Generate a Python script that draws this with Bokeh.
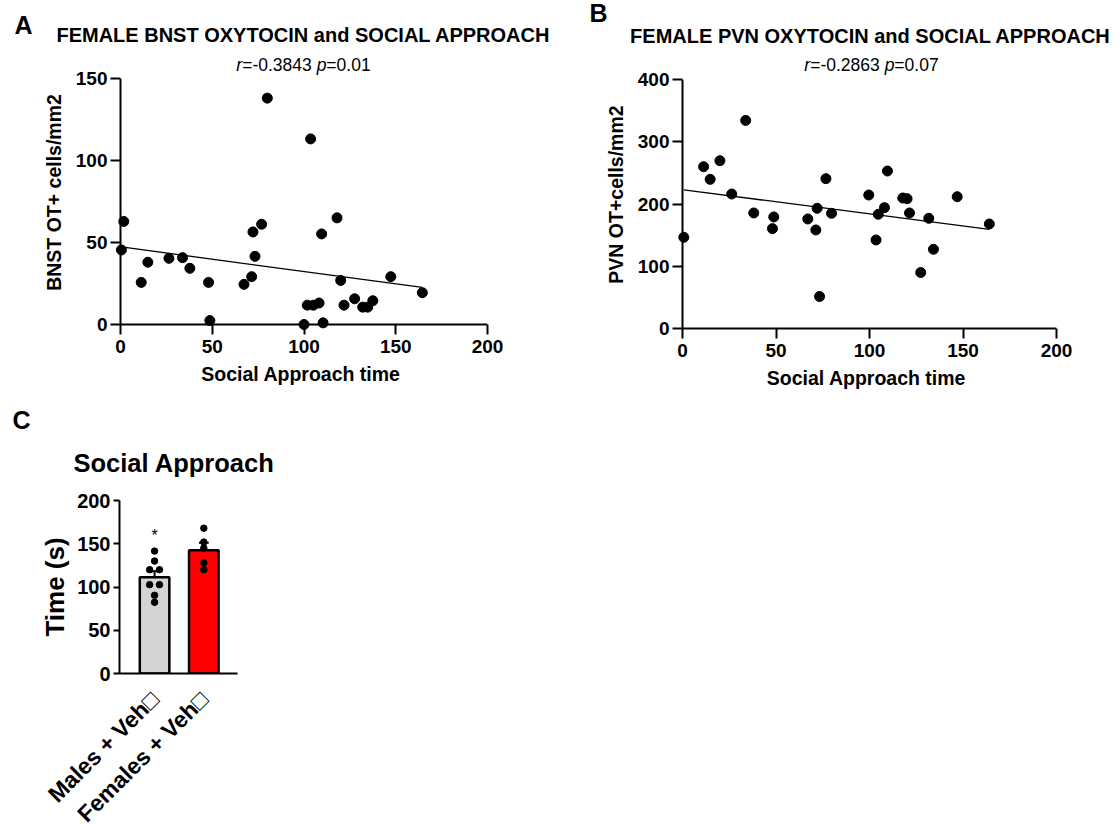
import math
import numpy as np
from bokeh.plotting import figure
from bokeh.models import Label, FixedTicker, Range1d
from bokeh.layouts import column, row
from bokeh.embed import file_html
from bokeh.resources import INLINE
from bokeh.core.properties import value

FONT = "Liberation Sans"

# ---------------- data ----------------
bnst_titles = ["FEMALE BNST OXYTOCIN and SOCIAL APPROACH", "BNST OT+ cells/mm2"]
pvn_titles = ["FEMALE PVN OXYTOCIN and SOCIAL APPROACH", "PVN OT+cells/mm2"]
x_title = "Social Approach time"
bnst_stats = ["-0.3843", "0.01"]
pvn_stats = ["-0.2863", "0.07"]

bnst_time = [80.0, 103.6, 1.8, 0.5, 14.9, 11.3, 26.4, 33.8, 37.8, 48.0, 48.7,
             67.3, 71.5, 73.3, 72.2, 76.9, 100.0, 101.8, 105.1, 108.2, 109.6,
             110.4, 118.0, 120.0, 121.8, 127.6, 132.0, 134.7, 137.5, 147.3, 164.5]
bnst_cells = [138.2, 113.3, 62.9, 45.5, 38.0, 25.7, 40.4, 40.8, 34.3, 25.7, 2.4,
              24.5, 29.2, 41.6, 56.5, 61.2, 0.0, 11.8, 11.8, 13.1, 55.3,
              1.0, 65.1, 26.9, 11.8, 15.7, 10.6, 10.6, 14.5, 29.2, 19.4]

pvn_time = [0.7, 11.3, 14.8, 20.0, 26.3, 33.8, 38.1, 48.1, 48.8, 67.0, 71.3,
            72.0, 73.3, 76.7, 79.7, 99.6, 103.5, 104.7, 108.0, 109.6, 117.8,
            120.1, 121.4, 131.7, 134.2, 127.4, 146.9, 164.1]
pvn_cells = [146.7, 260.2, 239.9, 269.9, 216.3, 334.7, 185.8, 160.6, 179.4, 176.2, 158.5,
             193.3, 51.4, 241.0, 185.3, 214.7, 142.4, 183.7, 194.4, 253.3, 209.9,
             208.8, 185.8, 177.2, 127.4, 90.0, 212.0, 168.1]

c_title = "Social Approach"
c_ylabel = "Time (s)"
groups = ["Males + Veh\u25a1", "Females + Veh\u25a1"]
males_veh = [141.5, 130.0, 120.0, 120.0, 102.7, 102.7, 90.4, 82.3]
females_veh = [168.0, 152.0, 145.0, 128.0, 120.0]
sig_text = ["*", ""]
sig_height = [160, None]

# ---------------- helpers ----------------
ARIAL = {'0': 556, '1': 556, '2': 556, '3': 556, '4': 556, '5': 556, '6': 556,
         '7': 556, '8': 556, '9': 556, '.': 278, '-': 333, '=': 584, ' ': 278,
         'r': 333, 'p': 556}


def tw(s, size):
    return sum(ARIAL.get(c, 556) for c in s) / 1000.0 * size


def label(p, x, y, text, size, style="normal", align="left", units="screen"):
    p.add_layout(Label(x=x, y=y, x_units=units, y_units=units, text=text,
                       text_font=FONT, text_font_size=f"{size}px",
                       text_font_style=style, text_align=align,
                       text_baseline="middle", text_color="black"))


def subtitle(p, cx, y, stats, size):
    parts = [("r", "italic"), ("=" + stats[0] + " ", "normal"),
             ("p", "italic"), ("=" + stats[1], "normal")]
    total = sum(tw(t, size) for t, _ in parts)
    x = cx - total / 2
    for t, st in parts:
        label(p, x, y, t.rstrip(), size, st)
        x += tw(t, size)


def header(w, h):
    p = figure(frame_width=w, frame_height=h, x_range=Range1d(0, w), y_range=Range1d(h, 0),
               x_axis_location=None, y_axis_location=None,
               output_backend="svg", toolbar_location=None,
               min_border=0, background_fill_color="white", border_fill_color="white")
    p.outline_line_color = None
    p.grid.visible = False
    return p


def style_axis(ax, tick_size, tick_in, tick_out, label_size, label_standoff, tick_standoff,
               show_line=True):
    ax.axis_line_width = 2
    ax.axis_line_color = "black" if show_line else None
    ax.major_tick_line_width = 2
    ax.major_tick_line_color = "black"
    ax.major_tick_out = int(tick_out)
    ax.major_tick_in = int(tick_in)
    ax.minor_tick_line_color = None
    ax.major_label_text_font = FONT
    ax.major_label_text_font_style = "bold"
    ax.major_label_text_font_size = f"{tick_size}px"
    ax.major_label_text_color = "black"
    ax.major_label_standoff = int(tick_standoff)
    ax.axis_label_text_font = FONT
    ax.axis_label_text_font_style = "bold"
    ax.axis_label_text_font_size = f"{label_size}px"
    ax.axis_label_text_color = "black"
    ax.axis_label_standoff = int(label_standoff)


def scatter_panel(xs, ys, ymax, ystep, titles, stats, frame_w, frame_h, pad_x, pad_y,
                  top_gap, borders, sub_cx, sub_mid):
    left, right, bottom = borders
    xmax = 200
    ppx = (frame_w - pad_x) / xmax
    ppy = (frame_h - pad_y - top_gap) / ymax
    p = figure(frame_width=frame_w, frame_height=frame_h,
               x_range=Range1d(-pad_x / ppx, xmax),
               y_range=Range1d(-pad_y / ppy, ymax + top_gap / ppy),
               output_backend="svg", toolbar_location=None,
               min_border_left=left, min_border_right=right,
               min_border_top=0, min_border_bottom=bottom,
               background_fill_color="white", border_fill_color="white")
    p.outline_line_color = None
    p.grid.visible = False
    p.xaxis.ticker = FixedTicker(ticks=list(range(0, xmax + 1, 50)))
    p.yaxis.ticker = FixedTicker(ticks=list(range(0, ymax + 1, ystep)))
    p.xaxis.axis_label = x_title
    p.yaxis.axis_label = titles[1]
    style_axis(p.xaxis[0], 19, pad_y, 10 - pad_y, 19.5, 7, 5, show_line=False)
    style_axis(p.yaxis[0], 19, pad_x, 10 - pad_x, 19.5, 8, 3, show_line=False)

    # axis lines at the data origin
    p.segment(x0=[0, 0], y0=[0, 0], x1=[xmax, 0], y1=[0, ymax],
              line_color="black", line_width=2)

    m, b = np.polyfit(xs, ys, 1)
    lx = np.array([min(xs), max(xs)])
    p.line(lx, m * lx + b, line_color="black", line_width=1.3)
    p.scatter(xs, ys, size=10, marker="circle", fill_color="black", line_color="black")

    subtitle(p, sub_cx, frame_h - sub_mid, stats, 17.5)
    return p


HEAD_H = 54
# Panel A: frame x 114..487, y 54..330
pA = scatter_panel(bnst_time, bnst_cells, 150, 50, bnst_titles, bnst_stats,
                   373, 276, 6, 6, 24.3, (114, 73, 62), 303 - 114, 64.5 - HEAD_H)
# Panel B: frame x 676..1056, y 54..334
pB = scatter_panel(pvn_time, pvn_cells, 400, 100, pvn_titles, pvn_stats,
                   380, 280, 6, 6, 25.3, (116, 56, 58), 871 - 676, 64.5 - HEAD_H)

hA = header(560, HEAD_H)
label(hA, 14, 24, "A", 25, "bold", units="data")
label(hA, 303, 34.5, bnst_titles[0], 20, "bold", "center", units="data")
hB = header(552, HEAD_H)
label(hB, 589 - 560, 12.5, "B", 25, "bold", units="data")
label(hB, 870 - 560, 35, pvn_titles[0], 20, "bold", "center", units="data")

# ---------------- Panel C ----------------
C_TOP = 392
hC = header(300, 480 - C_TOP)
label(hC, 12, 419 - C_TOP, "C", 25, "bold", units="data")
label(hC, 73, 462.5 - C_TOP, c_title, 25.5, "bold", units="data")

pos = [1, 2]
means = [float(np.mean(males_veh)), float(np.mean(females_veh))]
sems = [float(np.std(v, ddof=1) / math.sqrt(len(v))) for v in (males_veh, females_veh)]

pC = figure(frame_width=118, frame_height=173,
            x_range=Range1d(0.288, 2.684), y_range=Range1d(0, 200),
            output_backend="svg", toolbar_location=None,
            min_border_left=119, min_border_right=63,
            min_border_top=20, min_border_bottom=150,
            background_fill_color="white", border_fill_color="white")
pC.outline_line_color = None
pC.grid.visible = False
pC.yaxis.ticker = FixedTicker(ticks=[0, 50, 100, 150, 200])
pC.xaxis.ticker = FixedTicker(ticks=pos)
pC.xaxis.major_label_overrides = {pos[i]: groups[i] for i in range(2)}
pC.xaxis.major_label_orientation = math.pi / 4
pC.yaxis.axis_label = c_ylabel
style_axis(pC.yaxis[0], 20, 0, 6, 26, 4, 3)
style_axis(pC.xaxis[0], 23, 0, 0, 20, 4, 22)

pC.vbar(x=pos, top=means, width=0.6, bottom=0,
        fill_color=["#d3d3d3", "#ff0000"], line_color="black", line_width=2.5)
tops = [m + s for m, s in zip(means, sems)]
pC.segment(x0=pos, y0=means, x1=pos, y1=tops, line_color="black", line_width=2)
pC.segment(x0=[x - 0.1 for x in pos], y0=tops, x1=[x + 0.1 for x in pos], y1=tops,
           line_color="black", line_width=2)

male_jitter = [0, 0, -0.1, 0.1, -0.1, 0.1, 0, 0]
female_jitter = [0, 0, 0, 0, 0]
pC.scatter([pos[0] + j for j in male_jitter], males_veh, size=6.5, marker="circle",
           fill_color="black", line_color="black")
pC.scatter([pos[1] + j for j in female_jitter], females_veh, size=6.5, marker="circle",
           fill_color="black", line_color="black")

sx = [pos[i] for i in range(2) if sig_text[i]]
sy = [sig_height[i] for i in range(2) if sig_text[i]]
st = [sig_text[i] for i in range(2) if sig_text[i]]
pC.text(x=sx, y=sy, text=st, text_font=value(FONT), text_font_size="16px",
        text_align="center", text_baseline="alphabetic", text_color="black")

layout = column(row(hA, hB), row(pA, pB), row(hC), row(pC))

with open("out.html", "w") as f:
    f.write(file_html(layout, INLINE))
